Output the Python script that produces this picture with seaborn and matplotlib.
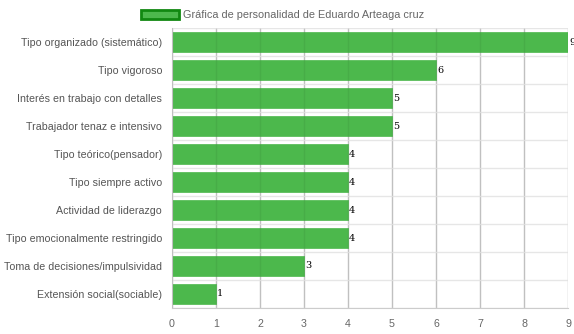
import matplotlib
matplotlib.use("Agg")
import matplotlib.pyplot as plt
import seaborn as sns
import pandas as pd
from matplotlib.patches import Patch

categories = [
    "Tipo organizado (sistemático)",
    "Tipo vigoroso",
    "Interés en trabajo con detalles",
    "Trabajador tenaz e intensivo",
    "Tipo teórico(pensador)",
    "Tipo siempre activo",
    "Actividad de liderazgo",
    "Tipo emocionalmente restringido",
    "Toma de decisiones/impulsividad",
    "Extensión social(sociable)",
]
values = [9, 6, 5, 5, 4, 4, 4, 4, 3, 1]
series_name = "Gráfica de personalidad de Eduardo Arteaga cruz"
x_ticks = list(range(0, 10))

df = pd.DataFrame({"cat": categories, "val": values})

sns.set_style("white")
plt.rcParams["font.family"] = ["Liberation Sans", "DejaVu Sans"]

fig = plt.figure(figsize=(5.74, 3.34), dpi=100)
ax = fig.add_axes([172 / 574, 1 - 308 / 334, 396 / 574, 280 / 334])

bar_color = "#4cb84c"
sns.barplot(data=df, x="val", y="cat", orient="h", color=bar_color,
            saturation=1, width=0.72, ax=ax, edgecolor=bar_color, linewidth=0.5)

ax.set_xlim(0, 9)
ax.set_ylim(len(categories) - 0.5, -0.5)
ax.set_xticks(x_ticks)
ax.set_xlabel("")
ax.set_ylabel("")

# grid
for xv in x_ticks:
    ax.axvline(xv, color="#cccccc", lw=1, zorder=0)
    ax.axvline(xv, color="#000000", lw=1, alpha=0.06, zorder=5)
for i in range(len(categories) + 1):
    ax.axhline(i - 0.5, color="#e6e6e6", lw=1, zorder=0)

for s in ax.spines.values():
    s.set_visible(False)
ax.spines["bottom"].set_visible(True)
ax.spines["bottom"].set_color("#cccccc")
ax.spines["left"].set_visible(True)
ax.spines["left"].set_color("#cccccc")

fs = 7.65
ax.tick_params(axis="x", colors="#cccccc", length=6, width=1, labelcolor="#666666", labelsize=fs, pad=2)
ax.tick_params(axis="y", colors="#e6e6e6", length=6, width=1, labelcolor="#555555", labelsize=fs, pad=1.2)
ax.set_yticks(range(len(categories)))
ax.set_yticklabels(categories)

for i, v in enumerate(values):
    ax.text(v + 0.02, i, str(v), va="center", ha="left", fontsize=7,
            color="black", family=["DejaVu Serif"], clip_on=False)

handle = Patch(facecolor=bar_color, edgecolor="#118811", linewidth=2)
fig.legend([handle], [series_name], loc="upper center", bbox_to_anchor=(0.492, 1.0),
           frameon=False, fontsize=7.8, handlelength=3.5, handleheight=0.9,
           handletextpad=0.4, labelcolor="#666666")

fig.savefig("out.png", dpi=100)
